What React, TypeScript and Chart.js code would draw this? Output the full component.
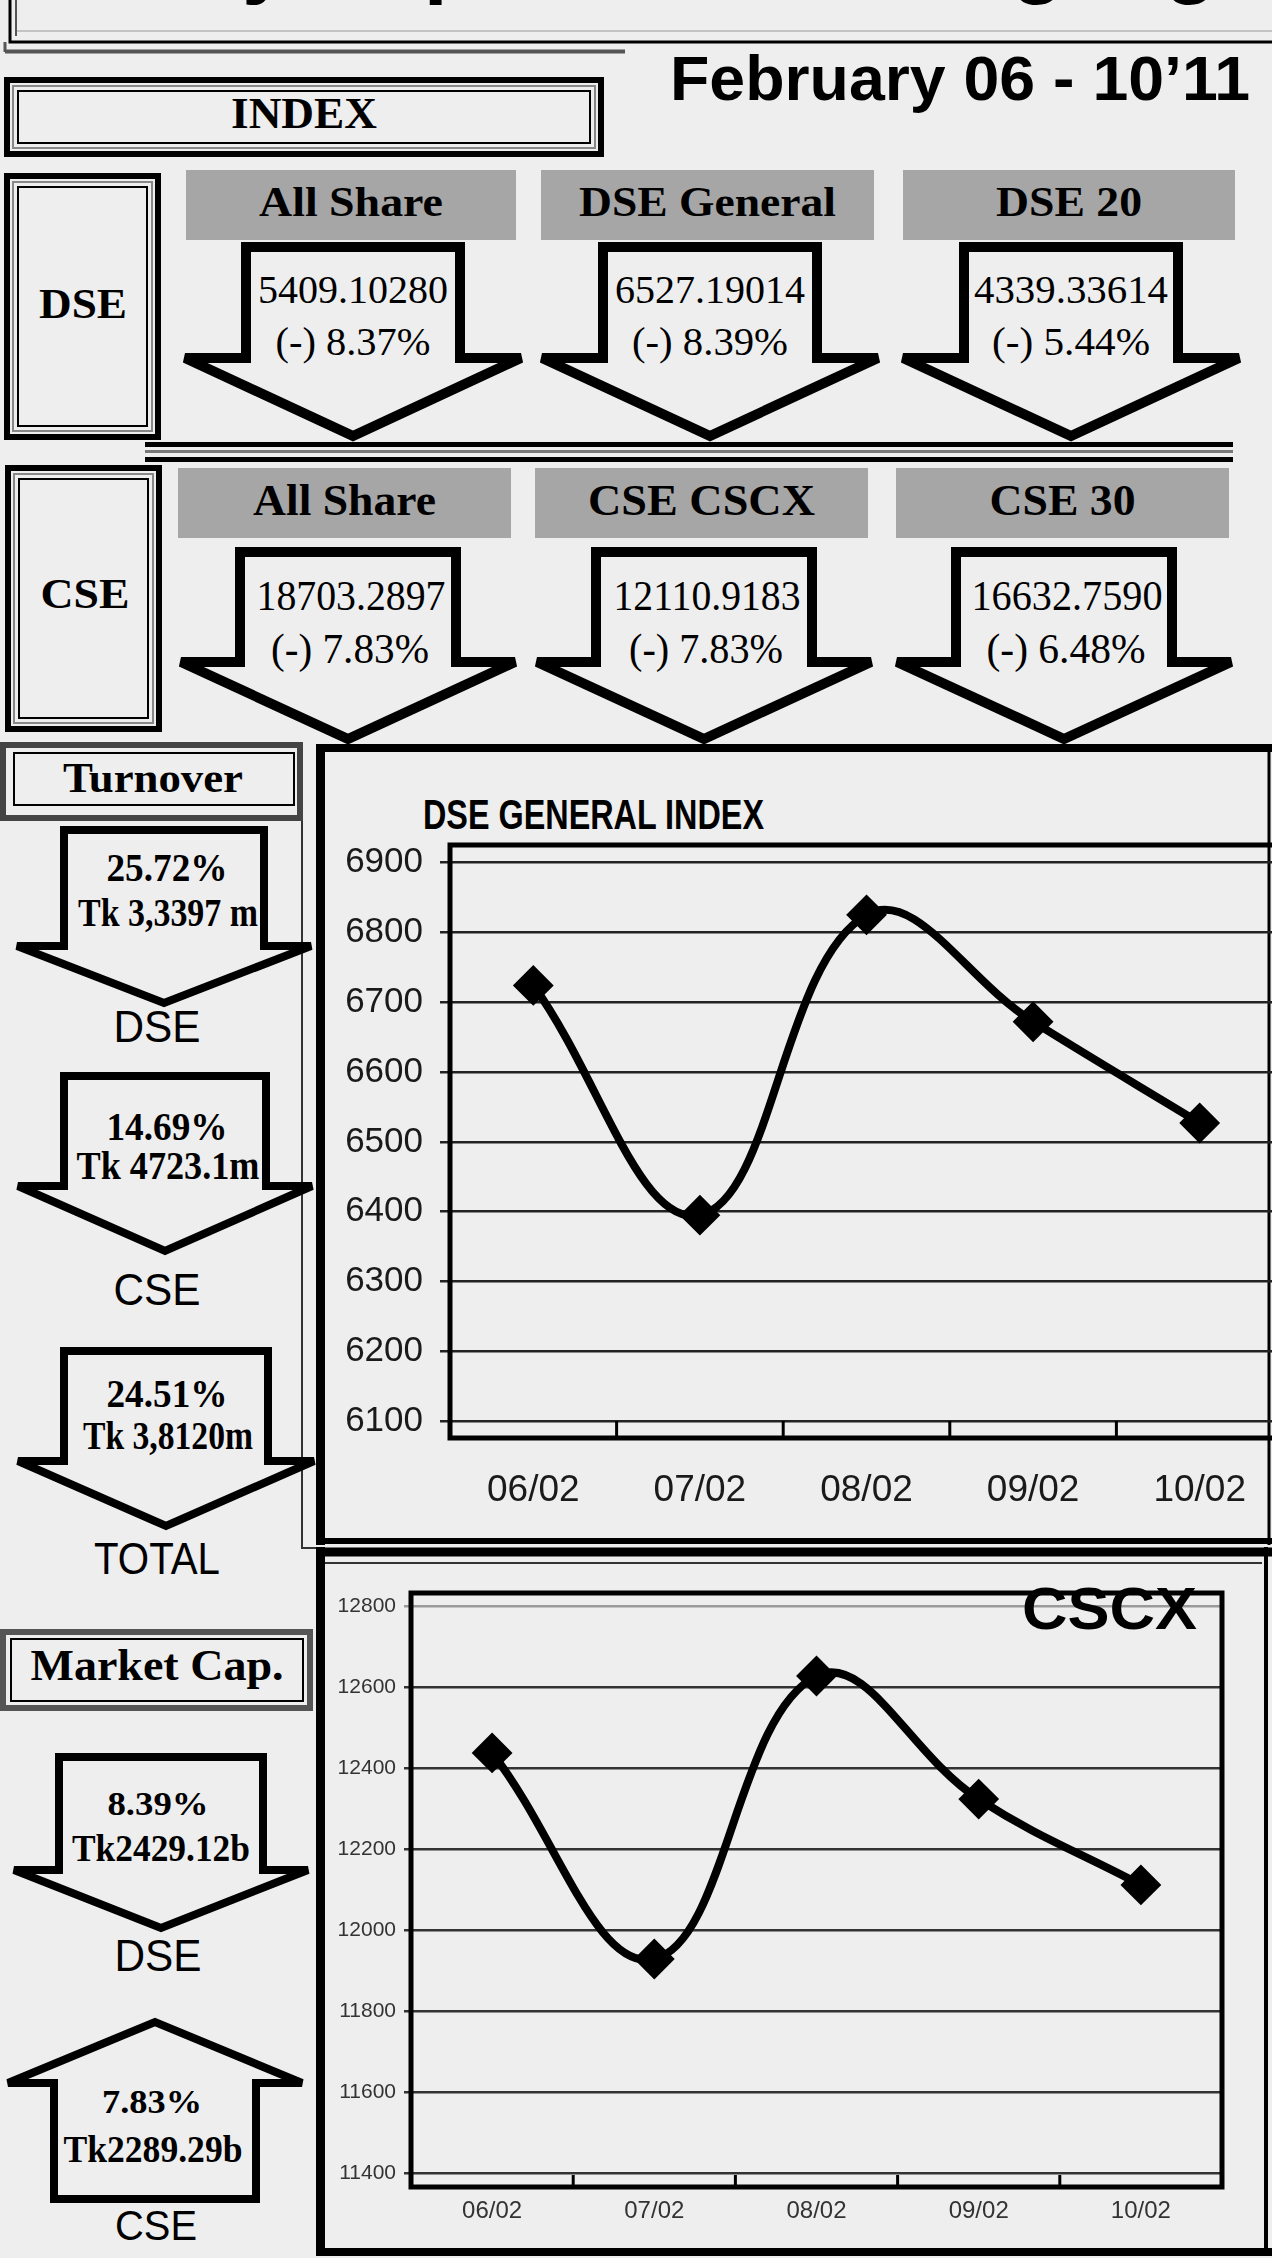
import React, { useEffect, useRef } from 'react';
import { Chart, registerables } from 'chart.js';

Chart.register(...registerables);

// ---------------- data ----------------
const dates = ['06/02', '07/02', '08/02', '09/02', '10/02'];
const dseGeneralIndex = [6724, 6395, 6825, 6672, 6527];
const cscxIndex = [12437, 11928, 12627, 12323, 12111];
const dseTicks = [6100, 6200, 6300, 6400, 6500, 6600, 6700, 6800, 6900];
const cscxTicks = [11400, 11600, 11800, 12000, 12200, 12400, 12600, 12800];

const dseIndexNames = ['All Share', 'DSE General', 'DSE 20'];
const dseIndexValues = ['5409.10280', '6527.19014', '4339.33614'];
const dseIndexChanges = ['(-) 8.37%', '(-) 8.39%', '(-) 5.44%'];
const cseIndexNames = ['All Share', 'CSE CSCX', 'CSE 30'];
const cseIndexValues = ['18703.2897', '12110.9183', '16632.7590'];
const cseIndexChanges = ['(-) 7.83%', '(-) 7.83%', '(-) 6.48%'];
const turnoverPct = ['25.72%', '14.69%', '24.51%'];
const turnoverAmt = ['Tk 3,3397 m', 'Tk 4723.1m', 'Tk 3,8120m'];
const turnoverLabels = ['DSE', 'CSE', 'TOTAL'];
const mcapPct = ['8.39%', '7.83%'];
const mcapAmt = ['Tk2429.12b', 'Tk2289.29b'];
const mcapLabels = ['DSE', 'CSE'];

// ---------------- styling ----------------
const BG = '#eeeeee';
const GRAYBOX = '#a6a6a6';
const SERIF = "'Liberation Serif', 'Times New Roman', serif";
const SANS = "'Liberation Sans', Arial, Helvetica, sans-serif";

type TP = { x: number; y: number; s: number; w?: number; f?: string; b?: boolean; a?: string; fill?: string; children: any };
function T({ x, y, s, w, f = SERIF, b = true, a = 'middle', fill = '#000', children }: TP) {
  return (
    <text x={x} y={y} fontSize={s} fontFamily={f} fontWeight={b ? 'bold' : 'normal'} textAnchor={a as any} fill={fill}
      textLength={w} lengthAdjust={w ? 'spacingAndGlyphs' : undefined}>{children}</text>
  );
}

function downArrow(cx: number, top: number, sh: number, wy: number, wh: number, tip: number) {
  return [
    [cx - sh, top], [cx + sh, top], [cx + sh, wy], [cx + wh, wy], [cx, tip], [cx - wh, wy], [cx - sh, wy],
  ].map(p => p.join(',')).join(' ');
}
function upArrow(cx: number, bottom: number, sh: number, wy: number, wh: number, tip: number) {
  return [
    [cx - sh, bottom], [cx - sh, wy], [cx - wh, wy], [cx, tip], [cx + wh, wy], [cx + sh, wy], [cx + sh, bottom],
  ].map(p => p.join(',')).join(' ');
}

function Arrow({ pts, sw }: { pts: string; sw: number }) {
  return <polygon points={pts} fill="none" stroke="#000" strokeWidth={sw} strokeLinejoin="miter" strokeMiterlimit={4} />;
}

function Box({ x, y, w, h, outer = '#000', ow = 6 }: { x: number; y: number; w: number; h: number; outer?: string; ow?: number }) {
  return (
    <g fill="none">
      <rect x={x} y={y} width={w} height={h} stroke={outer} strokeWidth={ow} />
      <rect x={x + 6} y={y + 6} width={w - 12} height={h - 12} stroke="#888" strokeWidth={2} />
      <rect x={x + 11} y={y + 11} width={w - 22} height={h - 22} stroke="#000" strokeWidth={2} />
    </g>
  );
}

// ---------------- chart plugin: plot frame + category tick marks ----------------
const framePlugin = {
  id: 'frame',
  afterDatasetsDraw(chart: any, _args: any, opts: any) {
    const { ctx, chartArea: a } = chart;
    const x = chart.scales.x;
    ctx.save();
    ctx.strokeStyle = '#000';
    ctx.lineWidth = opts.tickWidth;
    for (let i = 0; i < dates.length - 1; i++) {
      const px = (x.getPixelForValue(i) + x.getPixelForValue(i + 1)) / 2;
      ctx.beginPath();
      ctx.moveTo(px, a.bottom);
      ctx.lineTo(px, a.bottom - opts.tickLen);
      ctx.stroke();
    }
    ctx.lineWidth = opts.width;
    ctx.strokeRect(a.left, a.top, a.right - a.left, a.bottom - a.top);
    ctx.restore();
  },
};

function makeConfig(p: {
  values: number[]; ticks: number[]; min: number; max: number; padTop: number; padRight: number;
  yWidth: number; xHeight: number; yFont: number; xFont: number; yPad: number; xPad: number; tickLen: number;
  labelColor: string; xLabelColor: string; gridColor: (v: number) => string; gridWidth: number; markTick: number;
  lineWidth: number; pointRadius: number;
}): any {
  return {
    type: 'line',
    data: {
      labels: dates,
      datasets: [{
        data: p.values,
        borderColor: '#000',
        borderWidth: p.lineWidth,
        tension: 0.4,
        fill: false,
        pointStyle: 'rectRot',
        pointRadius: p.pointRadius,
        pointBackgroundColor: '#000',
        pointBorderColor: '#000',
        pointBorderWidth: 2,
      }],
    },
    options: {
      responsive: false,
      animation: false,
      events: [],
      layout: { autoPadding: false, padding: { top: p.padTop, right: p.padRight, left: 0, bottom: 0 } },
      plugins: {
        legend: { display: false },
        tooltip: { enabled: false },
        frame: { width: 5, tickLen: p.markTick, tickWidth: 3 },
      },
      scales: {
        x: {
          type: 'category',
          offset: true,
          grid: { display: false, drawTicks: false },
          border: { display: false },
          ticks: { font: { family: SANS, size: p.xFont }, color: p.xLabelColor, padding: p.xPad, maxRotation: 0, autoSkip: false },
          afterFit: (s: any) => { s.height = p.xHeight; },
        },
        y: {
          type: 'linear',
          min: p.min,
          max: p.max,
          afterBuildTicks: (s: any) => { s.ticks = p.ticks.map(v => ({ value: v })); },
          grid: { color: (c: any) => p.gridColor(c.tick ? c.tick.value : 0), lineWidth: p.gridWidth, tickLength: p.tickLen },
          border: { display: false },
          ticks: { font: { family: SANS, size: p.yFont }, color: p.labelColor, padding: p.yPad, callback: (v: any) => String(v) },
          afterFit: (s: any) => { s.width = p.yWidth; },
        },
      },
    },
    plugins: [framePlugin],
  };
}

function LineChart({ left, top, width, height, config }: { left: number; top: number; width: number; height: number; config: () => any }) {
  const ref = useRef<HTMLCanvasElement>(null);
  useEffect(() => {
    const chart = new Chart(ref.current as HTMLCanvasElement, config());
    return () => chart.destroy();
  }, []);
  return <canvas ref={ref} width={width} height={height} style={{ position: 'absolute', left, top, width, height }} />;
}

export default function App() {
  const dseCx = [353, 710, 1071];
  const dseHdr: [number, number][] = [[186, 516], [541, 874], [903, 1235]];
  const dseValW = [190, 190, 194];
  const dseChgW = [155, 156, 158];
  const cseCx = [348, 704, 1064];
  const cseHdr: [number, number][] = [[178, 511], [535, 868], [896, 1229]];
  const cseHdrW = [183, 227, 146];
  const dseHdrW = [184, 257, 146];
  const cseValW = [189, 187, 191];
  const cseChgW = [158, 154, 159];

  const turn = [
    { cx: 164, top: 830, sh: 100, wy: 946, wh: 147, tip: 1003, pctY: 881, amtY: 926, labY: 1042, amtW: 180, labW: 87 },
    { cx: 165, top: 1076, sh: 101, wy: 1186, wh: 147, tip: 1251, pctY: 1140, amtY: 1179, labY: 1305, amtW: 183, labW: 87 },
    { cx: 166, top: 1351, sh: 102, wy: 1461, wh: 148, tip: 1526, pctY: 1407, amtY: 1449, labY: 1574, amtW: 170, labW: 126 },
  ];

  return (
    <div style={{ position: 'absolute', left: 0, top: 0, width: 1272, height: 2258, overflow: 'hidden', background: BG }}>
      <svg width={1272} height={2258} style={{ position: 'absolute', left: 0, top: 0 }}>
        {/* header box with cut-off title */}
        <T x={-5} y={-13} s={86} f={SANS} a="start">Weekly Capital Market Highlights</T>
        <rect x={10} y={-20} width={1300} height={62} fill="none" stroke="#000" strokeWidth={3} />
        <line x1={16} y1={31} x2={1272} y2={31} stroke="#c4c4c4" strokeWidth={2} />
        <line x1={16} y1={0} x2={16} y2={36} stroke="#555" strokeWidth={2} />
        <line x1={5} y1={51.5} x2={625} y2={51.5} stroke="#555" strokeWidth={4} />
        <line x1={5} y1={42} x2={5} y2={52} stroke="#555" strokeWidth={3} />

        <T x={670} y={100} s={63} w={580} f={SANS} a="start">February 06 - 10’11</T>

        {/* INDEX box */}
        <Box x={7} y={80} w={594} h={74} />
        <T x={304} y={128} s={44} w={146}>INDEX</T>

        {/* DSE row */}
        <Box x={7} y={176} w={151} h={261} />
        <T x={83} y={318} s={42} w={88}>DSE</T>
        {dseIndexNames.map((n, i) => (
          <g key={'dh' + i}>
            <rect x={dseHdr[i][0]} y={170} width={dseHdr[i][1] - dseHdr[i][0]} height={70} fill={GRAYBOX} />
            <T x={(dseHdr[i][0] + dseHdr[i][1]) / 2} y={216} s={42} w={dseHdrW[i]}>{n}</T>
          </g>
        ))}
        {dseIndexValues.map((v, i) => (
          <g key={'dv' + i}>
            <Arrow pts={downArrow(dseCx[i], 247, 107, 358, 168, 436)} sw={10} />
            <T x={dseCx[i]} y={303} s={40} b={false} w={dseValW[i]}>{v}</T>
            <T x={dseCx[i]} y={355} s={40} b={false} w={dseChgW[i]}>{dseIndexChanges[i]}</T>
          </g>
        ))}

        {/* separator */}
        <line x1={145} y1={444.5} x2={1233} y2={444.5} stroke="#000" strokeWidth={5} />
        <line x1={145} y1={451.5} x2={1233} y2={451.5} stroke="#777" strokeWidth={3} />
        <line x1={145} y1={459.5} x2={1233} y2={459.5} stroke="#000" strokeWidth={5} />

        {/* CSE row */}
        <Box x={8} y={468} w={151} h={261} />
        <T x={85} y={608} s={42} w={89}>CSE</T>
        {cseIndexNames.map((n, i) => (
          <g key={'ch' + i}>
            <rect x={cseHdr[i][0]} y={468} width={cseHdr[i][1] - cseHdr[i][0]} height={70} fill={GRAYBOX} />
            <T x={(cseHdr[i][0] + cseHdr[i][1]) / 2} y={515} s={44} w={cseHdrW[i]}>{n}</T>
          </g>
        ))}
        {cseIndexValues.map((v, i) => (
          <g key={'cv' + i}>
            <Arrow pts={downArrow(cseCx[i], 552, 108, 662, 167, 739)} sw={10} />
            <T x={cseCx[i] + 3} y={610} s={42} b={false} w={cseValW[i]}>{v}</T>
            <T x={cseCx[i] + 2} y={663} s={42} b={false} w={cseChgW[i]}>{cseIndexChanges[i]}</T>
          </g>
        ))}

        {/* Turnover */}
        <rect x={3} y={745} width={297} height={73} fill="none" stroke="#444" strokeWidth={6} />
        <rect x={14} y={753} width={280} height={52} fill="none" stroke="#000" strokeWidth={2} />
        <T x={153} y={792} s={42} w={180}>Turnover</T>
        <polyline points="302,821 302,1548 316,1548" fill="none" stroke="#333" strokeWidth={2} />
        {turn.map((t, i) => (
          <g key={'t' + i}>
            <Arrow pts={downArrow(t.cx, t.top, t.sh, t.wy, t.wh, t.tip)} sw={8} />
            <T x={167} y={t.pctY} s={39} w={121}>{turnoverPct[i]}</T>
            <T x={168} y={t.amtY} s={40} w={t.amtW}>{turnoverAmt[i]}</T>
            <T x={157} y={t.labY} s={45} f={SANS} b={false} w={t.labW}>{turnoverLabels[i]}</T>
          </g>
        ))}

        {/* Market Cap */}
        <rect x={3} y={1632} width={307} height={76} fill="none" stroke="#555" strokeWidth={6} />
        <rect x={11} y={1639} width={292} height={62} fill="none" stroke="#000" strokeWidth={2} />
        <T x={157} y={1680} s={44} w={253}>Market Cap.</T>
        <Arrow pts={downArrow(161, 1757, 102, 1870, 147, 1928)} sw={8} />
        <T x={158} y={1815} s={33} w={101}>{mcapPct[0]}</T>
        <T x={161} y={1861} s={38} w={178}>{mcapAmt[0]}</T>
        <T x={158} y={1971} s={44} f={SANS} b={false} w={87}>{mcapLabels[0]}</T>
        <Arrow pts={upArrow(155, 2199, 101, 2083, 147, 2022)} sw={8} />
        <T x={152} y={2113} s={33} w={100}>{mcapPct[1]}</T>
        <T x={153} y={2162} s={38} w={179}>{mcapAmt[1]}</T>
        <T x={156} y={2240} s={42} f={SANS} b={false} w={82}>{mcapLabels[1]}</T>

        {/* chart 1 frame */}
        <line x1={316} y1={748} x2={1272} y2={748} stroke="#000" strokeWidth={8} />
        <line x1={320.5} y1={744} x2={320.5} y2={1545} stroke="#000" strokeWidth={9} />
        <line x1={316} y1={1541} x2={1272} y2={1541} stroke="#000" strokeWidth={6} />
        <line x1={1269} y1={744} x2={1269} y2={1545} stroke="#000" strokeWidth={3} />
        <T x={423} y={829} s={42} f={SANS} a="start" w={341}>DSE GENERAL  INDEX</T>

        {/* chart 2 frame */}
        <line x1={316} y1={1552} x2={1272} y2={1552} stroke="#000" strokeWidth={9} />
        <line x1={325} y1={1563} x2={1262} y2={1563} stroke="#333" strokeWidth={2} />
        <line x1={320.5} y1={1547} x2={320.5} y2={2256} stroke="#000" strokeWidth={9} />
        <line x1={316} y1={2252} x2={1272} y2={2252} stroke="#000" strokeWidth={8} />
        <line x1={1266} y1={1547} x2={1266} y2={2256} stroke="#000" strokeWidth={4} />
      </svg>

      <LineChart left={330} top={760} width={955} height={770} config={() => makeConfig({
        values: dseGeneralIndex, ticks: dseTicks, min: 6076, max: 6925, padTop: 85, padRight: 2,
        yWidth: 120, xHeight: 92, yFont: 35, xFont: 37, yPad: 17, xPad: 31, tickLen: 10,
        labelColor: '#1a1a1a', xLabelColor: '#1a1a1a', gridColor: () => '#222', gridWidth: 2.5, markTick: 17,
        lineWidth: 8, pointRadius: 19,
      })} />

      <LineChart left={330} top={1570} width={895} height={670} config={() => makeConfig({
        values: cscxIndex, ticks: cscxTicks, min: 11365, max: 12832, padTop: 23, padRight: 3,
        yWidth: 81, xHeight: 53, yFont: 21, xFont: 24, yPad: 8, xPad: 10, tickLen: 7,
        labelColor: '#333', xLabelColor: '#333', gridColor: (v: number) => (v === 12800 ? '#999' : '#333'), gridWidth: 2.5, markTick: 12,
        lineWidth: 8, pointRadius: 19,
      })} />

      <svg width={1272} height={2258} style={{ position: 'absolute', left: 0, top: 0, pointerEvents: 'none' }}>
        <T x={1022} y={1629} s={60} f={SANS} a="start" w={175}>CSCX</T>
      </svg>
    </div>
  );
}
